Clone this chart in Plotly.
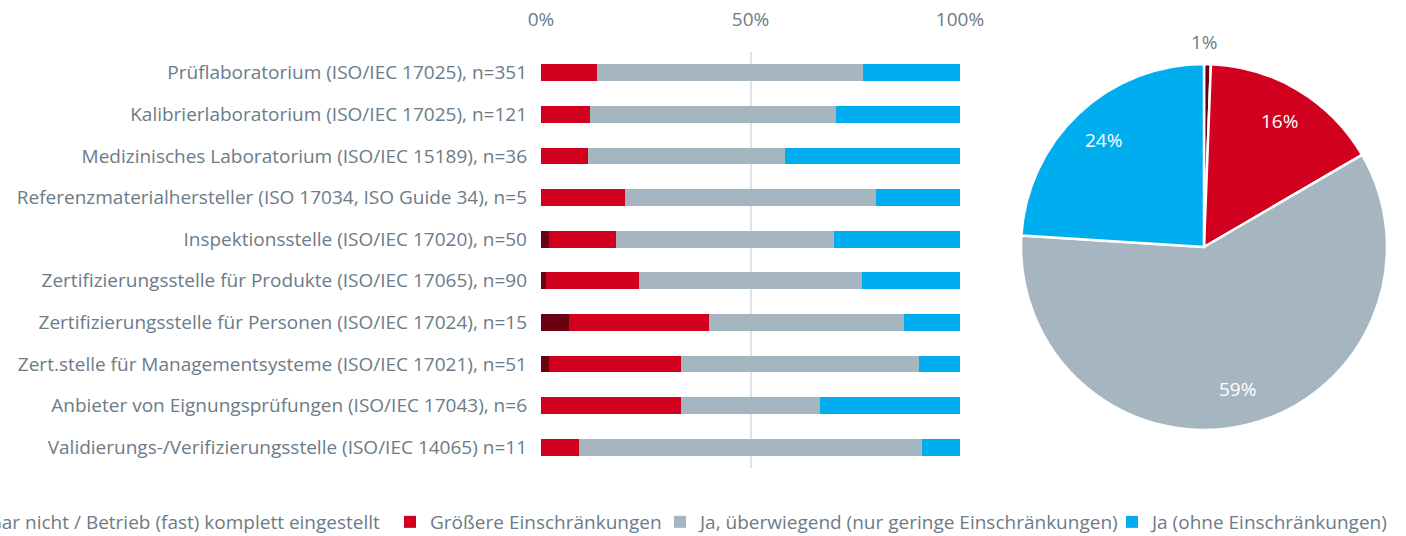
import math
import plotly.graph_objects as go

# Kategorien (oben -> unten)
kategorien = [
    "Prüflaboratorium (ISO/IEC 17025), n=351",
    "Kalibrierlaboratorium (ISO/IEC 17025), n=121",
    "Medizinisches Laboratorium (ISO/IEC 15189), n=36",
    "Referenzmaterialhersteller (ISO 17034, ISO Guide 34), n=5",
    "Inspektionsstelle (ISO/IEC 17020), n=50",
    "Zertifizierungsstelle für Produkte (ISO/IEC 17065), n=90",
    "Zertifizierungsstelle für Personen (ISO/IEC 17024), n=15",
    "Zert.stelle für Managementsysteme (ISO/IEC 17021), n=51",
    "Anbieter von Eignungsprüfungen (ISO/IEC 17043), n=6",
    "Validierungs-/Verifizierungsstelle (ISO/IEC 14065) n=11",
]

serien = [
    "Gar nicht / Betrieb (fast) komplett eingestellt",
    "Größere Einschränkungen",
    "Ja, überwiegend (nur geringe Einschränkungen)",
    "Ja (ohne Einschränkungen)",
]

# Anteile in Prozent je Kategorie
gar_nicht = [0.0, 0.0, 0.0, 0.0, 2.0, 1.1, 6.7, 2.0, 0.0, 0.0]
groessere = [13.4, 11.6, 11.1, 20.0, 16.0, 22.2, 33.3, 31.4, 33.3, 9.1]
ueberwiegend = [63.5, 58.7, 47.2, 60.0, 52.0, 53.3, 46.7, 56.9, 33.3, 81.8]
ohne = [23.1, 29.8, 41.7, 20.0, 30.0, 23.3, 13.3, 9.8, 33.3, 9.1]

# Gesamt (Kreisdiagramm)
gesamt = [0.6, 16.0, 59.4, 24.0]

farben = ["#6a0012", "#d2001f", "#a5b6c1", "#00aeef"]
textfarbe = "#6b7b88"
schrift = "Open Sans"

W, H = 1406, 536
B = 30          # unterer Rand (Legende)
PH = H - B      # Höhe der Zeichenfläche


def px_x(px):
    return px / W


def px_y(py):
    return (PH - py) / PH


fig = go.Figure()

# jede Serie bekommt eine eigene Legende, damit die Einträge frei stehen
legenden = ["legend", "legend2", "legend3", "legend4"]
for name, werte, farbe, leg in zip(serien, [gar_nicht, groessere, ueberwiegend, ohne], farben, legenden):
    fig.add_trace(go.Bar(
        y=kategorien, x=werte, name=name, orientation="h",
        marker=dict(color=farbe, line=dict(width=0)),
        width=0.4, legend=leg,
    ))

# Kreis: Mittelpunkt / Radius aus der Domain
pie_x0, pie_x1, pie_y0, pie_y1 = 1021, 1387, 62, 432
fig.add_trace(go.Pie(
    values=gesamt, labels=serien, sort=False, direction="clockwise", rotation=0,
    marker=dict(colors=farben, line=dict(color="white", width=2.5)),
    textinfo="none", hoverinfo="label+percent",
    showlegend=False,
    domain=dict(x=[px_x(pie_x0), px_x(pie_x1)], y=[px_y(pie_y1), px_y(pie_y0)]),
))

# Beschriftung der Kreissegmente (Winkel aus den Werten)
cx, cy = (pie_x0 + pie_x1) / 2, (pie_y0 + pie_y1) / 2
R = min(pie_x1 - pie_x0, pie_y1 - pie_y0) / 2
summe = sum(gesamt)
kum = 0
for i, v in enumerate(gesamt):
    mitte = (kum + v / 2) / summe * 2 * math.pi
    kum += v
    if i == 0:
        r, farbe = R + 22, textfarbe
        tx, ty = cx, cy - r
    else:
        r, farbe = R * 0.8, "white"
        tx, ty = cx + r * math.sin(mitte), cy - r * math.cos(mitte)
    fig.add_annotation(
        x=px_x(tx), y=px_y(ty), xref="paper", yref="paper",
        text=f"{round(v / summe * 100)}%", showarrow=False,
        font=dict(size=19, color=farbe, family=schrift),
        xanchor="center", yanchor="middle",
    )

leg_style = dict(
    orientation="h", xanchor="left", y=px_y(522), yanchor="middle",
    font=dict(size=19, color=textfarbe), itemwidth=30, bgcolor="rgba(0,0,0,0)",
)
# Textanfang der Legendeneinträge (px) minus 40 px Symbolbereich
leg_start = [-12, 430, 700, 1152]

fig.update_layout(
    width=W, height=H,
    barmode="stack",
    paper_bgcolor="white", plot_bgcolor="white",
    margin=dict(l=0, r=0, t=0, b=B, autoexpand=False),
    font=dict(family=schrift, color=textfarbe, size=19),
    xaxis=dict(
        domain=[px_x(541), px_x(960)], range=[0, 100], side="top",
        tickvals=[0, 50, 100], ticktext=["0%", "50%", "100%"],
        showgrid=True, gridcolor="#dde3e8", gridwidth=2,
        zeroline=False, showline=False, ticks="",
        tickfont=dict(size=19), ticklabelstandoff=21,
        fixedrange=True,
    ),
    yaxis=dict(
        domain=[px_y(468), px_y(52)], autorange="reversed",
        showgrid=False, zeroline=False, showline=False, ticks="",
        tickfont=dict(size=19), ticklabelstandoff=13,
        fixedrange=True,
    ),
    legend=dict(x=px_x(leg_start[0] - 40), **leg_style),
    legend2=dict(x=px_x(leg_start[1] - 40), **leg_style),
    legend3=dict(x=px_x(leg_start[2] - 40), **leg_style),
    legend4=dict(x=px_x(leg_start[3] - 40), **leg_style),
)

fig.write_html(
    "out.html",
    config={"displayModeBar": False},
    post_script="document.body.style.margin='0';",
)
